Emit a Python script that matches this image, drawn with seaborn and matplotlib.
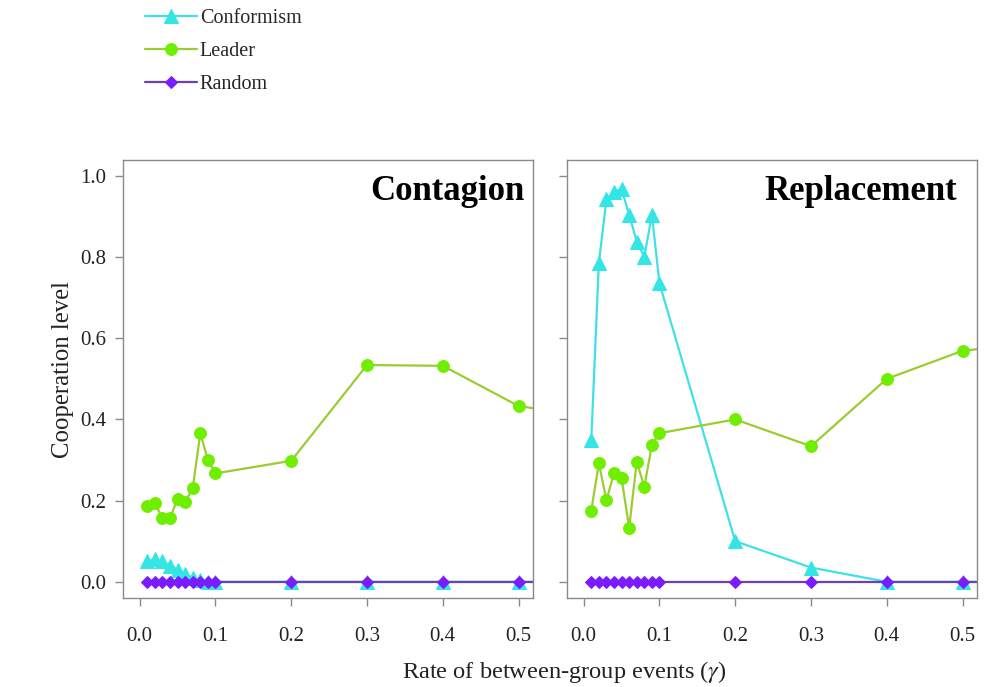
import numpy as np
import pandas as pd
import matplotlib
matplotlib.use("Agg")
import matplotlib.pyplot as plt
import seaborn as sns

# ---- data ----
rate = [0.01, 0.02, 0.03, 0.04, 0.05, 0.06, 0.07, 0.08, 0.09, 0.10,
        0.2, 0.3, 0.4, 0.5, 0.6]

contagion_conformism = [0.050, 0.055, 0.050, 0.040, 0.030, 0.020, 0.010, 0.005, 0.0, 0.0,
                        0.0, 0.0, 0.0, 0.0, 0.0]
contagion_leader = [0.187, 0.195, 0.156, 0.156, 0.205, 0.197, 0.230, 0.366, 0.300, 0.267,
                    0.298, 0.534, 0.532, 0.433, 0.405]
contagion_random = [0.0] * 15

replacement_conformism = [0.349, 0.785, 0.942, 0.961, 0.967, 0.904, 0.838, 0.800, 0.904, 0.735,
                          0.100, 0.035, 0.0, 0.0, 0.0]
replacement_leader = [0.175, 0.292, 0.201, 0.267, 0.255, 0.133, 0.296, 0.234, 0.337, 0.366,
                      0.400, 0.334, 0.500, 0.569, 0.590]
replacement_random = [0.0] * 15

panels = ["Contagion", "Replacement"]
strategies = ["Conformism", "Leader", "Random"]
y_ticks = [0.0, 0.2, 0.4, 0.6, 0.8, 1.0]
x_ticks = [0.0, 0.1, 0.2, 0.3, 0.4, 0.5]

series = {
    ("Contagion", "Conformism"): contagion_conformism,
    ("Contagion", "Leader"): contagion_leader,
    ("Contagion", "Random"): contagion_random,
    ("Replacement", "Conformism"): replacement_conformism,
    ("Replacement", "Leader"): replacement_leader,
    ("Replacement", "Random"): replacement_random,
}
rows = []
for (p, s), vals in series.items():
    for x, v in zip(rate, vals):
        rows.append({"panel": p, "strategy": s, "rate": x, "coop": v})
df = pd.DataFrame(rows)

# ---- style ----
sns.set_style("ticks")
plt.rcParams["font.family"] = ["Liberation Serif", "DejaVu Serif"]
plt.rcParams["mathtext.fontset"] = "stix"

styles = {
    "Conformism": dict(line="#40E0E8", mfc="#33E5E5", marker="^", ms=9.5),
    "Leader": dict(line="#9ACD32", mfc="#70EE00", marker="o", ms=8.5),
    "Random": dict(line="#6A3FB8", mfc="#7A1CFF", marker="D", ms=6),
}

fig = plt.figure(figsize=(9.96, 6.87), dpi=100)
ax_w = 0.4116
ax_b = 0.1295
ax_h = 0.6376
axes = [fig.add_axes([0.1235, ax_b, ax_w, ax_h]),
        fig.add_axes([0.5693, ax_b, ax_w, ax_h])]

title_x = {"Contagion": 0.980, "Replacement": 0.951}

spine_c = "#8a8a8a"
for ax, panel in zip(axes, panels):
    sub = df[df["panel"] == panel]
    for s in strategies:
        st = styles[s]
        d = sub[sub["strategy"] == s]
        sns.lineplot(data=d, x="rate", y="coop", ax=ax, color=st["line"],
                     marker=st["marker"], markersize=st["ms"],
                     markerfacecolor=st["mfc"], markeredgecolor=st["mfc"],
                     linewidth=1.6, label=s, legend=False, clip_on=True)
    ax.set_xlim(-0.022, 0.519)
    ax.set_ylim(-0.040, 1.039)
    ax.set_xticks(x_ticks)
    ax.set_xticklabels([f"{t:.1f}" for t in x_ticks])
    ax.set_yticks(y_ticks)
    ax.set_yticklabels([f"{t:.1f}" for t in y_ticks])
    for sp in ax.spines.values():
        sp.set_visible(True)
        sp.set_color(spine_c)
        sp.set_linewidth(1.0)
    ax.tick_params(axis="both", direction="out", length=6, width=1.0,
                   color=spine_c, labelsize=15, labelcolor="#222222", pad=6)
    ax.tick_params(axis="x", pad=15)
    ax.set_xlabel("")
    ax.set_ylabel("")
    ax.text(title_x[panel], 0.909, panel, transform=ax.transAxes, ha="right",
            va="baseline", fontsize=25, fontweight="bold", color="black")

axes[1].tick_params(axis="y", labelleft=False)

fig.text(63 / 996, 1 - 370 / 687, "Cooperation level", rotation=90,
         ha="center", va="center", fontsize=17.8, color="#222222")
fig.text(0.5665, 1 - 672 / 687, r"Rate of between-group events ($\gamma$)",
         ha="center", va="center", fontsize=17.6, color="#222222")

handles, labels = axes[0].get_legend_handles_labels()
fig.legend(handles[:3], labels[:3], loc="upper left",
           bbox_to_anchor=(145 / 996, 1 - 9 / 687), frameon=False,
           fontsize=14.5, handlelength=2.6, handletextpad=0.12,
           labelspacing=0.70, borderpad=0, borderaxespad=0)

fig.savefig("out.png", dpi=100, facecolor="white")
